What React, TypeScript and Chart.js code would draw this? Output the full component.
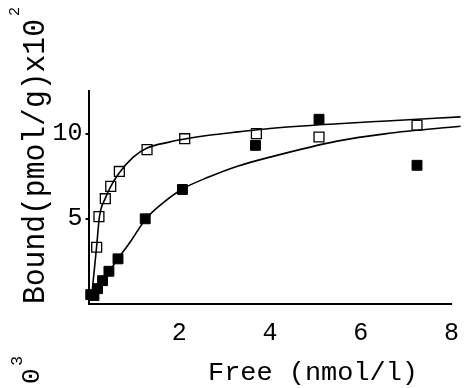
import React, { useEffect, useRef } from 'react';
import { Chart, registerables } from 'chart.js';

Chart.register(...registerables);

// Open squares
const openX = [0.18, 0.23, 0.37, 0.49, 0.68, 1.29, 2.12, 3.7, 5.08, 7.24];
const openY = [3.33, 5.13, 6.18, 6.9, 7.78, 9.06, 9.7, 10.0, 9.8, 10.49];
// Filled squares
const filledX = [0.05, 0.12, 0.2, 0.31, 0.45, 0.65, 1.25, 2.07, 3.68, 5.08, 7.24];
const filledY = [0.55, 0.5, 0.9, 1.37, 1.92, 2.65, 5.0, 6.72, 9.31, 10.84, 8.14];
// Fitted curves
const upperCurveX = [0.06, 0.18, 0.24, 0.37, 0.5, 0.68, 0.98, 1.29, 1.78, 2.12, 2.65, 3.3, 4.0, 5.5, 6.57, 8.2];
const upperCurveY = [0.2, 3.4, 5.1, 6.2, 6.95, 7.7, 8.6, 9.15, 9.5, 9.68, 9.9, 10.1, 10.3, 10.58, 10.74, 10.98];
const lowerCurveX = [0.05, 0.2, 0.45, 0.65, 0.95, 1.25, 1.65, 2.07, 2.65, 3.3, 4.0, 5.48, 6.57, 8.2];
const lowerCurveY = [0.3, 0.9, 1.9, 2.65, 3.76, 4.95, 5.95, 6.75, 7.45, 8.1, 8.62, 9.56, 10.0, 10.43];

const xTicks = [2, 4, 6, 8];
const yTicks = [5, 10];

const yTitle = 'Bound(pmol/g)x10';
const yTitleSup = '2';
const xTitle = 'Free (nmol/l)';
const cornerText = '0';
const cornerSup = '3';

const MONO = "'Liberation Mono', 'DejaVu Sans Mono', monospace";

const pts = (xs: number[], ys: number[]) => xs.map((x, i) => ({ x, y: ys[i] }));

function drawText(
  ctx: CanvasRenderingContext2D,
  text: string,
  x: number,
  y: number,
  angle: number,
  font: string,
  width?: number
) {
  ctx.save();
  ctx.translate(x, y);
  ctx.rotate(angle);
  ctx.font = font;
  const w = ctx.measureText(text).width;
  const s = width ? width / w : 1;
  ctx.scale(s, 1);
  ctx.textAlign = 'left';
  ctx.textBaseline = 'alphabetic';
  ctx.fillStyle = '#000';
  ctx.fillText(text, 0, 0);
  ctx.restore();
}

const textPlugin = {
  id: 'texts',
  afterDraw(chart: any) {
    const ctx = chart.ctx as CanvasRenderingContext2D;
    drawText(ctx, yTitle, 43.5, 304, -Math.PI / 2, `31px ${MONO}`, 285);
    drawText(ctx, yTitleSup, 18.5, 16, -Math.PI / 2, `15px ${MONO}`);
    drawText(ctx, xTitle, 208, 380, 0, `26px ${MONO}`, 210);
    drawText(ctx, cornerText, 38.5, 384, -Math.PI / 2, `26px ${MONO}`);
    drawText(ctx, cornerSup, 21.7, 366, -Math.PI / 2, `17px ${MONO}`);
  },
};

export default function App() {
  const ref = useRef<HTMLCanvasElement | null>(null);

  useEffect(() => {
    if (!ref.current) return;
    const tickFont = { family: MONO, size: 25 };
    const chart = new Chart(ref.current, {
      type: 'scatter',
      data: {
        datasets: [
          {
            label: 'upper fit',
            data: pts(upperCurveX, upperCurveY),
            showLine: true,
            pointRadius: 0,
            borderColor: '#000',
            borderWidth: 1.6,
            cubicInterpolationMode: 'monotone',
            clip: false,
          } as any,
          {
            label: 'lower fit',
            data: pts(lowerCurveX, lowerCurveY),
            showLine: true,
            pointRadius: 0,
            borderColor: '#000',
            borderWidth: 1.6,
            cubicInterpolationMode: 'monotone',
            clip: false,
          } as any,
          {
            label: 'open',
            data: pts(openX, openY),
            pointStyle: 'rect',
            pointRadius: 7,
            backgroundColor: 'rgba(0,0,0,0)',
            borderColor: '#000',
            borderWidth: 1.3,
            clip: false,
          } as any,
          {
            label: 'filled',
            data: pts(filledX, filledY),
            pointStyle: 'rect',
            pointRadius: 7,
            backgroundColor: '#000',
            borderColor: '#000',
            borderWidth: 1,
            clip: false,
          } as any,
        ],
      },
      options: {
        animation: false,
        responsive: false,
        layout: { padding: { top: 91, right: 9, left: 0, bottom: 0 } },
        plugins: { legend: { display: false }, tooltip: { enabled: false } },
        scales: {
          x: {
            type: 'linear',
            min: 0,
            max: 8,
            afterBuildTicks: (s: any) => {
              s.ticks = xTicks.map((v) => ({ value: v }));
            },
            afterFit: (s: any) => {
              s.height = 84;
            },
            grid: { display: false },
            border: { display: true, color: '#000', width: 2 },
            ticks: { font: tickFont, color: '#000', padding: 6, maxRotation: 0, autoSkip: false },
          },
          y: {
            type: 'linear',
            min: 0,
            max: 12.5,
            afterBuildTicks: (s: any) => {
              s.ticks = yTicks.map((v) => ({ value: v }));
            },
            afterFit: (s: any) => {
              s.width = 88.5;
            },
            grid: { display: true, drawOnChartArea: false, drawTicks: true, tickLength: 3, color: '#000', lineWidth: 2 },
            border: { display: true, color: '#000', width: 2 },
            ticks: { font: tickFont, color: '#000', padding: 3, autoSkip: false },
          },
        },
      },
      plugins: [textPlugin],
    } as any);
    return () => chart.destroy();
  }, []);

  return (
    <div style={{ position: 'absolute', left: 0, top: 0, width: 465, height: 388, background: '#fff' }}>
      <canvas ref={ref} width={465} height={388} style={{ display: 'block' }} />
    </div>
  );
}
